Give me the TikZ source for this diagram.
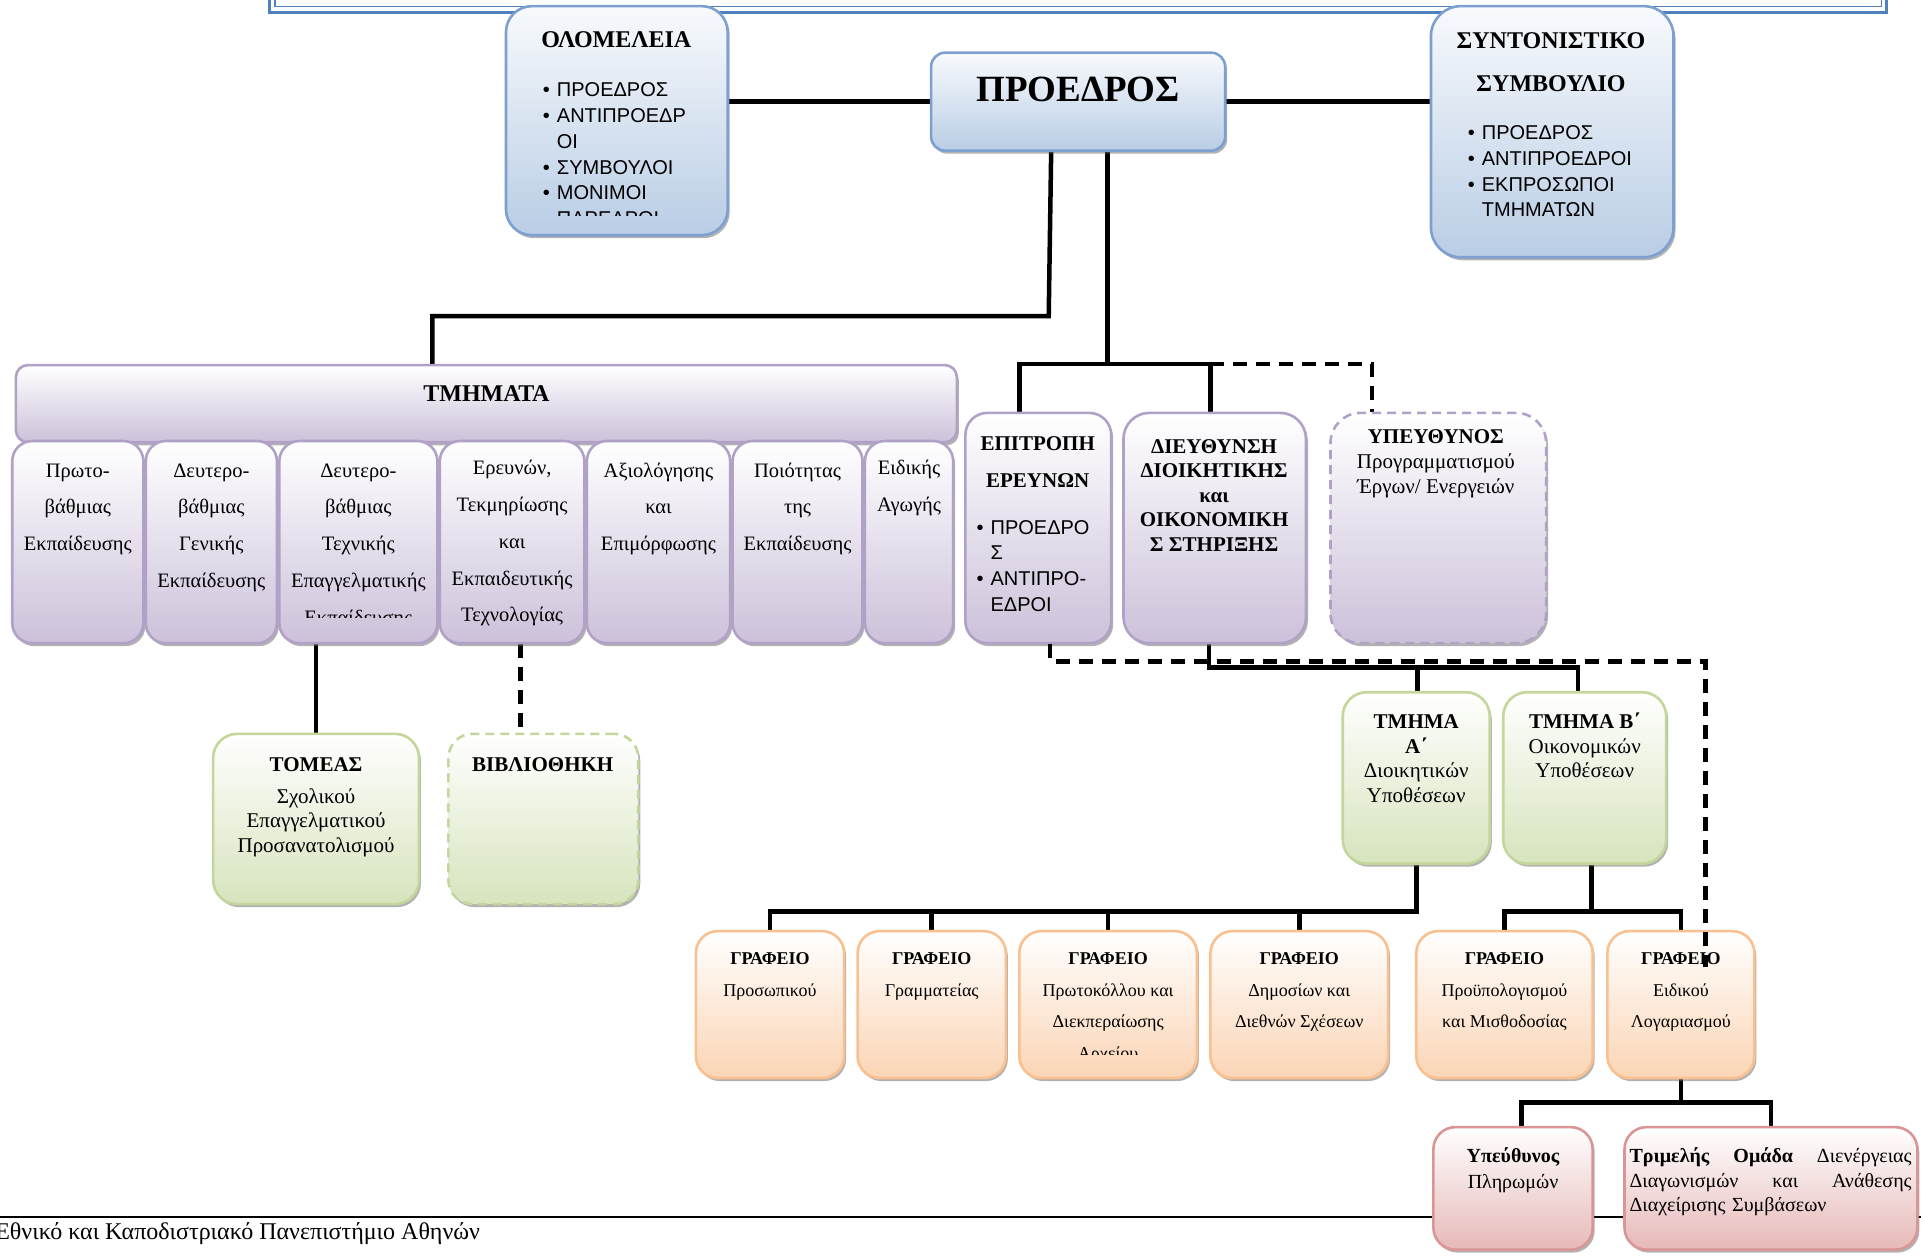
\documentclass[tikz,border=0pt]{standalone}
\usepackage{fontspec}
\setmainfont{Liberation Serif}
\newfontfamily\gsans{Liberation Sans}
\usetikzlibrary{shadows,backgrounds,calc}
\definecolor{blueF}{RGB}{185,205,229}
\definecolor{blueB}{RGB}{126,160,208}
\definecolor{purF}{RGB}{204,193,218}
\definecolor{purB}{RGB}{178,161,199}
\definecolor{grnF}{RGB}{215,228,189}
\definecolor{grnB}{RGB}{195,214,155}
\definecolor{orgF}{RGB}{251,213,181}
\definecolor{orgB}{RGB}{250,192,144}
\definecolor{redF}{RGB}{230,185,184}
\definecolor{redB}{RGB}{217,150,148}
\definecolor{hdrB}{RGB}{79,129,189}
\newcommand\myfs[2]{\fontsize{#1pt}{#2pt}\selectfont}
\newcommand\bu{\makebox[14pt][l]{•}}
\newcommand\bi{\hspace*{14pt}}
\newcommand\mybox[7]{\node[#6, rounded corners=#7pt, minimum width={(#4-#2)*1.2251pt}, minimum height={(#5-#3)*1.2251pt}] (#1) at ({(#2+#4)/2},{(#3+#5)/2}) {};}
\begin{document}
\begin{tikzpicture}[x=1.2251pt, y=-1.2251pt,
  box/.style={draw, line width=2.6pt, inner sep=0pt,
    drop shadow={shadow xshift=2pt, shadow yshift=-3pt, fill=black!60, opacity=0.5}},
  bluebox/.style={box, draw=blueB, top color=blueF!10, bottom color=blueF},
  purbox/.style={box, draw=purB, top color=white, bottom color=purF},
  grnbox/.style={box, draw=grnB, top color=white, bottom color=grnF},
  orgbox/.style={box, draw=orgB, top color=white, bottom color=orgF},
  redbox/.style={box, draw=redB, top color=white, bottom color=redF},
  dashbox/.style={dash pattern=on 9pt off 6pt},
  tx/.style={inner sep=0pt, anchor=base, align=center},
  conn/.style={line width=4.5pt, black},
  dconn/.style={line width=4.5pt, black, dash pattern=on 14pt off 9pt},
  hdr/.style={draw=hdrB},
  foot/.style={line width=2pt, black}]
\useasboundingbox (0,0) rectangle (1568,1025);
% header border
\draw[hdr, line width=2.6pt] (220,-20) -- (220,10) -- (1540,10) -- (1540,-20);
\draw[hdr, line width=1.2pt] (224.5,-20) -- (224.5,5) -- (1535.5,5) -- (1535.5,-20);
% boxes
\mybox{olo}{413}{5}{594}{192}{bluebox}{26}
\mybox{pres}{760}{43}{1000}{123}{bluebox}{14}
\mybox{synt}{1168}{5}{1366}{210}{bluebox}{30}
\mybox{tm}{13}{298}{781}{361}{purbox}{12}
\mybox{d1}{10}{360}{117}{525}{purbox}{20}
\mybox{d2}{119}{360}{226}{525}{purbox}{20}
\mybox{d3}{228}{360}{357}{525}{purbox}{20}
\mybox{d4}{359}{360}{477}{525}{purbox}{20}
\mybox{d5}{479}{360}{596}{525}{purbox}{20}
\mybox{d6}{598}{360}{704}{525}{purbox}{20}
\mybox{d7}{706}{360}{778}{525}{purbox}{20}
\mybox{epi}{788}{337}{907}{525}{purbox}{22}
\mybox{die}{917}{337}{1066}{525}{purbox}{26}
\mybox{ypef}{1086}{337}{1262}{525}{purbox,dashbox}{30}
\mybox{tom}{174}{599}{342}{738}{grnbox}{24}
\mybox{bib}{366}{599}{521}{738}{grnbox,dashbox}{24}
\mybox{ta}{1096}{565}{1216}{705}{grnbox}{24}
\mybox{tb}{1227}{565}{1360}{705}{grnbox}{24}
\mybox{g1}{568}{760}{689}{880}{orgbox}{22}
\mybox{g2}{700}{760}{821}{880}{orgbox}{22}
\mybox{g3}{832}{760}{977}{880}{orgbox}{22}
\mybox{g4}{988}{760}{1133}{880}{orgbox}{22}
\mybox{g5}{1156}{760}{1300}{880}{orgbox}{22}
\mybox{g6}{1312}{760}{1432}{880}{orgbox}{22}
\mybox{yp}{1170}{920}{1300}{1020}{redbox}{22}
\mybox{tri}{1326}{920}{1565}{1020}{redbox}{22}
% texts (multi-line nodes: base = last line)
\node[tx, anchor=center, font=\myfs{24}{30}\bfseries] (olot) at (503,32) {ΟΛΟΜΕΛΕΙΑ};
\begin{scope}
\clip (415,55) rectangle (592,175.5);
\node[tx, anchor=base west, align=left, font=\gsans\myfs{20}{25.7}] (olob) at (443,184)
 {\bu ΠΡΟΕΔΡΟΣ\\\bu ΑΝΤΙΠΡΟΕΔΡ\\\bi ΟΙ\\\bu ΣΥΜΒΟΥΛΟΙ\\\bu ΜΟΝΙΜΟΙ\\\bi ΠΑΡΕΔΡΟΙ};
\end{scope}
\node[tx, anchor=center, font=\myfs{37}{40}\bfseries] (prest) at (880,73) {ΠΡΟΕΔΡΟΣ};
\node[tx, font=\myfs{24}{42.9}\bfseries] (syntt) at (1266,74.5) {ΣΥΝΤΟΝΙΣΤΙΚΟ\\ΣΥΜΒΟΥΛΙΟ};
\node[tx, anchor=base west, align=left, font=\gsans\myfs{20}{25.7}] (syntb) at (1198,177)
 {\bu ΠΡΟΕΔΡΟΣ\\\bu ΑΝΤΙΠΡΟΕΔΡΟΙ\\\bu ΕΚΠΡΟΣΩΠΟΙ\\\bi ΤΜΗΜΑΤΩΝ};
\node[tx, anchor=center, font=\myfs{24}{28}\bfseries] (tmt) at (397,321) {ΤΜΗΜΑΤΑ};
\node[tx, font=\myfs{20.5}{36.75}] (d1t) at (63.5,449.5) {Πρωτο-\\βάθμιας\\Εκπαίδευσης};
\node[tx, font=\myfs{20.5}{36.75}] (d2t) at (172.5,479.5) {Δευτερο-\\βάθμιας\\Γενικής\\Εκπαίδευσης};
\begin{scope}
\clip (228,362) rectangle (357,504);
\node[tx, font=\myfs{20.5}{36.75}] (d3t) at (292.5,509.5) {Δευτερο-\\βάθμιας\\Τεχνικής\\Επαγγελματικής\\Εκπαίδευσης};
\end{scope}
\node[tx, font=\myfs{20.5}{36.75}] (d4t) at (418,507.5) {Ερευνών,\\Τεκμηρίωσης\\και\\Εκπαιδευτικής\\Τεχνολογίας};
\node[tx, font=\myfs{20.5}{36.75}] (d5t) at (537.5,449.5) {Αξιολόγησης\\και\\Επιμόρφωσης};
\node[tx, font=\myfs{20.5}{36.75}] (d6t) at (651,449.5) {Ποιότητας\\της\\Εκπαίδευσης};
\node[tx, font=\myfs{20.5}{36.75}] (d7t) at (742,417.5) {Ειδικής\\Αγωγής};
\node[tx, font=\myfs{21}{36.75}\bfseries] (epit) at (847,398) {ΕΠΙΤΡΟΠΗ\\ΕΡΕΥΝΩΝ};
\node[tx, anchor=base west, align=left, font=\gsans\myfs{20}{25.7}] (epib) at (797,499)
 {\bu ΠΡΟΕΔΡΟ\\\bi Σ\\\bu ΑΝΤΙΠΡΟ-\\\bi ΕΔΡΟΙ};
\node[tx, font=\myfs{21}{24.5}\bfseries] (diet) at (991,450) {ΔΙΕΥΘΥΝΣΗ\\ΔΙΟΙΚΗΤΙΚΗΣ\\και\\ΟΙΚΟΝΟΜΙΚΗ\\Σ ΣΤΗΡΙΞΗΣ};
\node[tx, font=\myfs{21}{25}] (ypeft) at (1172,402.8) {\textbf{ΥΠΕΥΘΥΝΟΣ}\\Προγραμματισμού\\Έργων/ Ενεργειών};
\node[tx, anchor=center, font=\myfs{21}{25}\bfseries] (tomt) at (258,624) {ΤΟΜΕΑΣ};
\node[tx, font=\myfs{21}{24.5}] (tomb) at (258,695.7) {Σχολικού\\Επαγγελματικού\\Προσανατολισμού};
\node[tx, anchor=center, font=\myfs{21}{25}\bfseries] (bibt) at (443,624) {ΒΙΒΛΙΟΘΗΚΗ};
\node[tx, font=\myfs{21}{24.5}] (tat) at (1156,655) {\textbf{ΤΜΗΜΑ}\\\textbf{Α΄}\\Διοικητικών\\Υποθέσεων};
\node[tx, font=\myfs{21}{24.5}] (tbt) at (1293.5,635) {\textbf{ΤΜΗΜΑ Β΄}\\Οικονομικών\\Υποθέσεων};
\node[tx, font=\myfs{18}{31.85}] (g1t) at (628.5,813) {\textbf{ΓΡΑΦΕΙΟ}\\Προσωπικού};
\node[tx, font=\myfs{18}{31.85}] (g2t) at (760.5,813) {\textbf{ΓΡΑΦΕΙΟ}\\Γραμματείας};
\begin{scope}
\clip (833,762) rectangle (976,861);
\node[tx, font=\myfs{18}{31.85}] (g3t) at (904.5,865) {\textbf{ΓΡΑΦΕΙΟ}\\Πρωτοκόλλου και\\Διεκπεραίωσης\\Αρχείου};
\end{scope}
\node[tx, font=\myfs{18}{31.85}] (g4t) at (1060.5,839) {\textbf{ΓΡΑΦΕΙΟ}\\Δημοσίων και\\Διεθνών Σχέσεων};
\node[tx, font=\myfs{18}{31.85}] (g5t) at (1228,839) {\textbf{ΓΡΑΦΕΙΟ}\\Προϋπολογισμού\\και Μισθοδοσίας};
\node[tx, font=\myfs{18}{31.85}] (g6t) at (1372,839) {\textbf{ΓΡΑΦΕΙΟ}\\Ειδικού\\Λογαριασμού};
\node[tx, font=\myfs{20}{25.7}] (ypt) at (1235,970) {\textbf{Υπεύθυνος}\\Πληρωμών};
\node[tx, anchor=base west, align=left, text width=282pt, font=\myfs{20}{24.5}] (trit) at (1330,949)
 {\textbf{Τριμελής}\hfill\textbf{Ομάδα}\hfill Διενέργειας\\Διαγωνισμών\hfill και\hfill Ανάθεσης\\Διαχείρισης Συμβάσεων};
\node[tx, anchor=base west, align=left, font=\myfs{24}{28}] (foott) at (-4,1012) {Εθνικό και Καποδιστριακό Πανεπιστήμιο Αθηνών};
% connectors
\begin{pgfonlayer}{background}
\draw[foot] (0,993) -- (1568,993);
\draw[conn] (olo.east|-pres.west) -- (pres.west);
\draw[conn] (pres.east) -- (synt.west|-pres.east);
\draw[conn] ($(pres.south)+(-22,0)$) -- (856,258) -- (353,258) -- (tm.north-|353,0);
\draw[conn] ($(pres.south)+(24,0)$) -- (904,297);
\draw[conn] (epi.north-|832,0) -- (832,297) -- (988,297) -- (die.north-|988,0);
\draw[dconn] (988,297) -- (1120,297) -- (ypef.north-|1120,0);
\draw[conn] (d3.south-|258,0) -- (tom.north-|258,0);
\draw[dconn] (d4.south-|425,0) -- (bib.north-|425,0);
\draw[conn] (die.south-|987,0) -- (987,545) -- (1288,545) -- (tb.north-|1288,0);
\draw[conn] (1157,545) -- (ta.north-|1157,0);
\draw[conn] (ta.south) -- (ta.south|-0,744) -- (g1.north|-0,744) -- (g1.north);
\draw[conn] (g2.north|-0,744) -- (g2.north);
\draw[conn] (g3.north|-0,744) -- (g3.north);
\draw[conn] (g4.north|-0,744) -- (g4.north);
\draw[conn] (tb.south-|1299,0) -- (1299,744);
\draw[conn] (g5.north) -- (g5.north|-0,744) -- (g6.north|-0,744) -- (g6.north);
\draw[conn] (g6.south) -- (g6.south|-0,900);
\draw[conn] (yp.north-|1242,0) -- (1242,900) -- (tri.north|-0,900) -- (tri.north);
\end{pgfonlayer}
\draw[dconn] (epi.south-|857,0) -- (857,540) -- (1392,540) -- ($(g6.north-|1392,0)+(0,30)$);
\end{tikzpicture}
\end{document}
